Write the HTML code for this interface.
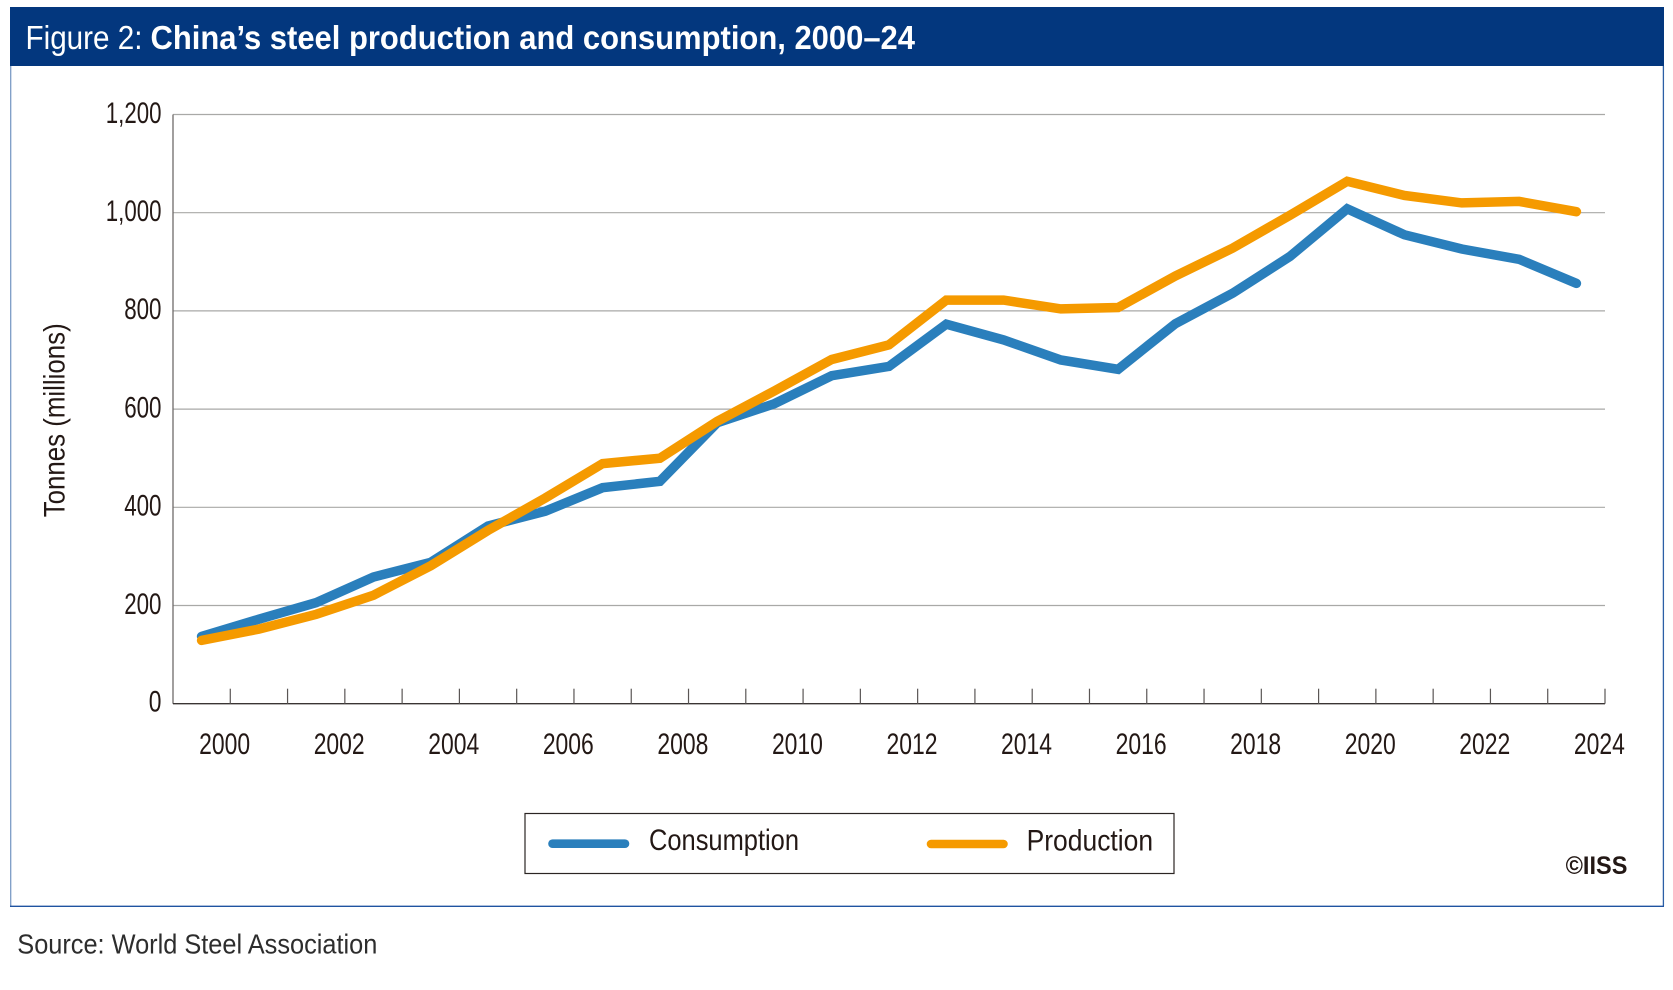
<!DOCTYPE html>
<html lang="en">
<head>
<meta charset="utf-8">
<title>China's steel production and consumption, 2000–24</title>
<style>
  html, body { margin: 0; padding: 0; background: #fff; }
  body { width: 1673px; height: 990px; overflow: hidden; }
  svg { display: block; font-family: "Liberation Sans", Arial, sans-serif; }
  .tick-text { font-size: 29.5px; fill: #231815; }
  .legend-text { font-size: 30px; fill: #231815; }
</style>
</head>
<body>
<svg id="chart" xmlns="http://www.w3.org/2000/svg" width="1673" height="990" viewBox="0 0 1673 990">
  <rect x="0" y="0" width="1673" height="990" fill="#ffffff"/>
  <line x1="10.7" y1="66" x2="10.7" y2="906" stroke="#7c9cc6" stroke-width="1.3"/>
  <line x1="1663.4" y1="66" x2="1663.4" y2="906" stroke="#2b5fa6" stroke-width="1.3"/>
  <line x1="10" y1="906.3" x2="1664" y2="906.3" stroke="#1f53a0" stroke-width="1.3"/>
  <rect x="10" y="7" width="1654" height="59" fill="#03377e"/>
  <text x="25.5" y="49" font-size="33" fill="#ffffff" textLength="117" lengthAdjust="spacingAndGlyphs">Figure 2:</text>
  <text x="150.5" y="49" font-size="33" font-weight="700" fill="#ffffff" textLength="764.5" lengthAdjust="spacingAndGlyphs">China’s steel production and consumption, 2000–24</text>

  <g id="grid"></g>
  <g id="axes"></g>
  <g id="series"></g>

  <text transform="translate(64.3 517.3) rotate(-90)" x="0" y="0" font-size="30" fill="#231815" textLength="194" lengthAdjust="spacingAndGlyphs">Tonnes (millions)</text>

  <g>
    <rect x="525" y="813.5" width="649" height="60" fill="#ffffff" stroke="#2b2523" stroke-width="1.2"/>
    <line x1="552.5" y1="843.7" x2="625" y2="843.7" stroke="#2a7fbc" stroke-width="8.6" stroke-linecap="round"/>
    <text class="legend-text" x="649" y="850" textLength="150" lengthAdjust="spacingAndGlyphs">Consumption</text>
    <line x1="931" y1="844" x2="1003.5" y2="844" stroke="#f59a00" stroke-width="8.6" stroke-linecap="round"/>
    <text class="legend-text" x="1026.6" y="850.5" textLength="126.5" lengthAdjust="spacingAndGlyphs">Production</text>
  </g>

  <text x="1565.6" y="874" font-size="25" font-weight="700" fill="#231815" textLength="61.8" lengthAdjust="spacingAndGlyphs">©IISS</text>
  <text x="17.3" y="953.3" font-size="28" fill="#2d2d2d" textLength="360" lengthAdjust="spacingAndGlyphs">Source: World Steel Association</text>
</svg>

<script>
var years = [2000,2001,2002,2003,2004,2005,2006,2007,2008,2009,2010,2011,2012,2013,2014,2015,2016,2017,2018,2019,2020,2021,2022,2023,2024];
var consumption = [137,172,206,258,288,362,392,440,453,572,611,668,687,773,741,700,681,774,836,911,1008,955,926,905,856];
var production = [129,152,182,221,281,353,419,489,500,575,637,701,731,822,822,804,807,871,928,995,1064,1035,1020,1023,1002];
var yTickValues = [0,200,400,600,800,1000,1200];
var yTickLabels = ["0","200","400","600","800","1,000","1,200"];
var xTickLabels = ["2000","2002","2004","2006","2008","2010","2012","2014","2016","2018","2020","2022","2024"];

var SVG_NS = "http://www.w3.org/2000/svg";
var plotLeft = 173, plotRight = 1605, plotTop = 114.5, plotBottom = 703.7, yMax = 1200;
var band = (plotRight - plotLeft) / years.length;

function xScale(year) {
  return plotLeft + (years.indexOf(year) + 0.5) * band;
}
function yScale(value) {
  return plotBottom - (value / yMax) * (plotBottom - plotTop);
}
function make(tag, attrs, parent) {
  var el = document.createElementNS(SVG_NS, tag);
  for (var k in attrs) el.setAttribute(k, attrs[k]);
  parent.appendChild(el);
  return el;
}

var grid = document.getElementById("grid");
var axes = document.getElementById("axes");
var series = document.getElementById("series");

yTickValues.forEach(function (v, i) {
  if (v > 0) {
    var g = make("line", {x1: plotLeft, x2: plotRight, y1: yScale(v), y2: yScale(v), stroke: "#a9a9a7", "stroke-width": 1.2}, grid);
    
    
  }
  var label = yTickLabels[i];
  var t = make("text", {"class": "tick-text", x: 161.5, y: yScale(v) + (v === 0 ? 7.6 : 8.3), "text-anchor": "end",
    textLength: label.length === 5 ? 55.7 : (label.length === 3 ? 37.3 : 12.7), lengthAdjust: "spacingAndGlyphs"}, axes);
  t.textContent = label;
  
  
});

var yAxis = make("line", {x1: plotLeft, x2: plotLeft, y1: plotTop, y2: plotBottom, stroke: "#6f6b6a", "stroke-width": 1.3}, axes);



var xAxis = make("line", {x1: plotLeft, x2: plotRight, y1: plotBottom, y2: plotBottom, stroke: "#3a3534", "stroke-width": 1.4}, axes);



years.forEach(function (yr) {
  var tx = xScale(yr) + band / 2;
  var tick = make("line", {x1: tx, x2: tx, y1: plotBottom - 15, y2: plotBottom, stroke: "#5a5655", "stroke-width": 1.2}, axes);
  
  
});

xTickLabels.forEach(function (label) {
  var t = make("text", {"class": "tick-text", x: xScale(Number(label)) + 23, y: 754, "text-anchor": "middle",
    textLength: 51, lengthAdjust: "spacingAndGlyphs"}, axes);
  t.textContent = label;
  
  
});

function linePoints(values) {
  return values.map(function (v, i) {
    return xScale(years[i]).toFixed(1) + "," + yScale(v).toFixed(1);
  }).join(" ");
}

var consumptionLine = make("polyline", {points: linePoints(consumption), fill: "none", stroke: "#2a7fbc", "stroke-width": 9.5, "stroke-linecap": "round", "stroke-linejoin": "miter"}, series);



var productionLine = make("polyline", {points: linePoints(production), fill: "none", stroke: "#f59a00", "stroke-width": 9.5, "stroke-linecap": "round", "stroke-linejoin": "miter"}, series);


</script>
</body>
</html>
